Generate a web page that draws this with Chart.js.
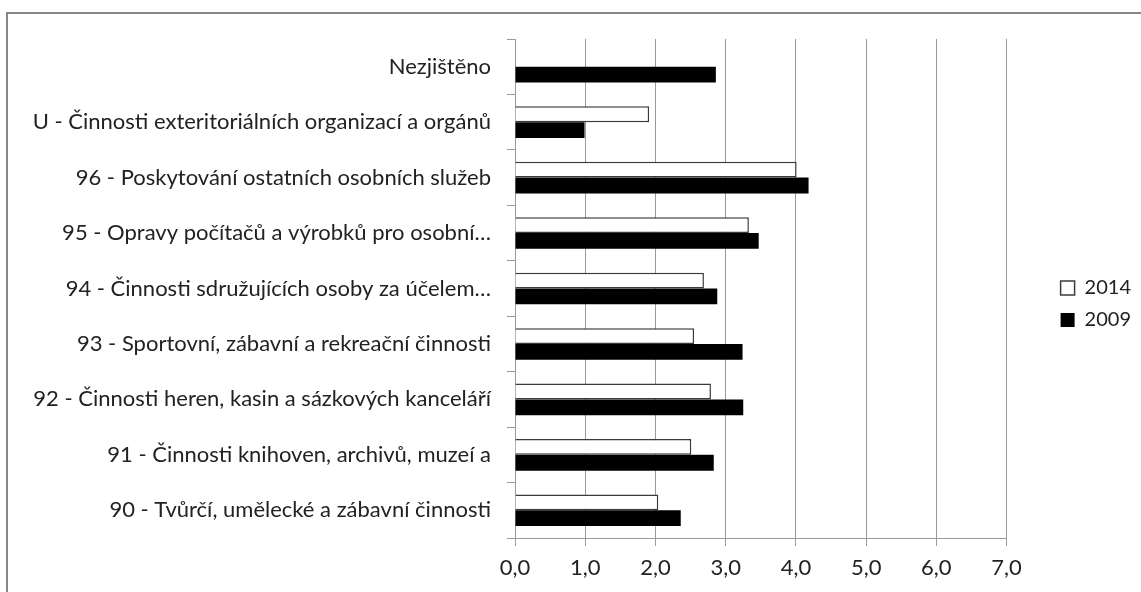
<!DOCTYPE html>
<html>
<head>
<meta charset="utf-8">
<script src="https://cdn.jsdelivr.net/npm/chart.js"></script>
<style>
  html, body { margin: 0; padding: 0; background: #fff; }
  #frame { position: absolute; left: 6px; top: 12px; width: 1200px; height: 650px;
           border-top: 2px solid #868686; border-left: 2px solid #868686; }
  #wrap { position: absolute; left: 0; top: 0; width: 1141px; height: 592px; }
</style>
</head>
<body>
<div id="frame"></div>
<div id="wrap"><canvas id="myChart" width="1141" height="592"></canvas></div>
<script>
var categories = [
  "Nezjištěno",
  "U - Činnosti exteritoriálních organizací a orgánů",
  "96 - Poskytování ostatních osobních služeb",
  "95 - Opravy počítačů a výrobků pro osobní…",
  "94 - Činnosti sdružujících osoby za účelem…",
  "93 - Sportovní, zábavní a rekreační činnosti",
  "92 - Činnosti heren, kasin a sázkových kanceláří",
  "91 - Činnosti knihoven, archivů, muzeí a",
  "90 - Tvůrčí, umělecké a zábavní činnosti"
];
var seriesNames = ["2014", "2009"];
var values2014 = [null, 1.91, 4.01, 3.33, 2.69, 2.55, 2.79, 2.51, 2.04];
var values2009 = [2.86, 0.99, 4.18, 3.47, 2.88, 3.24, 3.25, 2.83, 2.36];
var tickLabels = ["0,0", "1,0", "2,0", "3,0", "4,0", "5,0", "6,0", "7,0"];

var font = { family: "Lato", size: 22 };
var gridColor = "#9a9a9a";

new Chart("myChart", {
  type: "bar",
  data: {
    labels: categories,
    datasets: [{
      label: seriesNames[0],
      data: values2014,
      backgroundColor: "#ffffff",
      borderColor: "#3a3a3a",
      borderWidth: 1.5,
      categoryPercentage: 0.57,
      barPercentage: 1.0
    }, {
      label: seriesNames[1],
      data: values2009,
      backgroundColor: "#000000",
      borderColor: "#000000",
      borderWidth: 0,
      categoryPercentage: 0.57,
      barPercentage: 1.0
    }]
  },
  options: {
    indexAxis: "y",
    responsive: false,
    animation: false,
    layout: { padding: { top: 16, right: 0, bottom: 0, left: 0 } },
    plugins: {
      tooltip: { enabled: false },
      // empty title only keeps the plot top at the reference height
      title: {
        display: true,
        text: "",
        fullSize: false,
        font: { size: 10, lineHeight: 1 },
        padding: { top: 0, bottom: 13 }
      },
      legend: {
        position: "right",
        labels: {
          boxWidth: 14,
          boxHeight: 14,
          padding: 12,
          color: "#222",
          font: { family: "Lato", size: 20 }
        }
      }
    },
    scales: {
      x: {
        min: 0,
        max: 7,
        ticks: {
          stepSize: 1,
          color: "#222",
          font: font,
          padding: 9,
          callback: function(v, i) { return tickLabels[i]; }
        },
        grid: { color: gridColor, tickLength: 8 },
        border: { color: gridColor },
        afterFit: function(s) { s.height = 54; }
      },
      y: {
        ticks: { color: "#222", font: font, padding: 16 },
        grid: { color: gridColor, drawOnChartArea: false, offset: true, tickLength: 8 },
        border: { color: gridColor },
        afterFit: function(s) { s.width = 515; }
      },
      gap: {
        type: "linear",
        position: "right",
        display: true,
        ticks: { display: false },
        grid: { display: false },
        border: { display: false },
        afterFit: function(s) { s.width = 42; }
      }
    }
  }
});
</script>
</body>
</html>
